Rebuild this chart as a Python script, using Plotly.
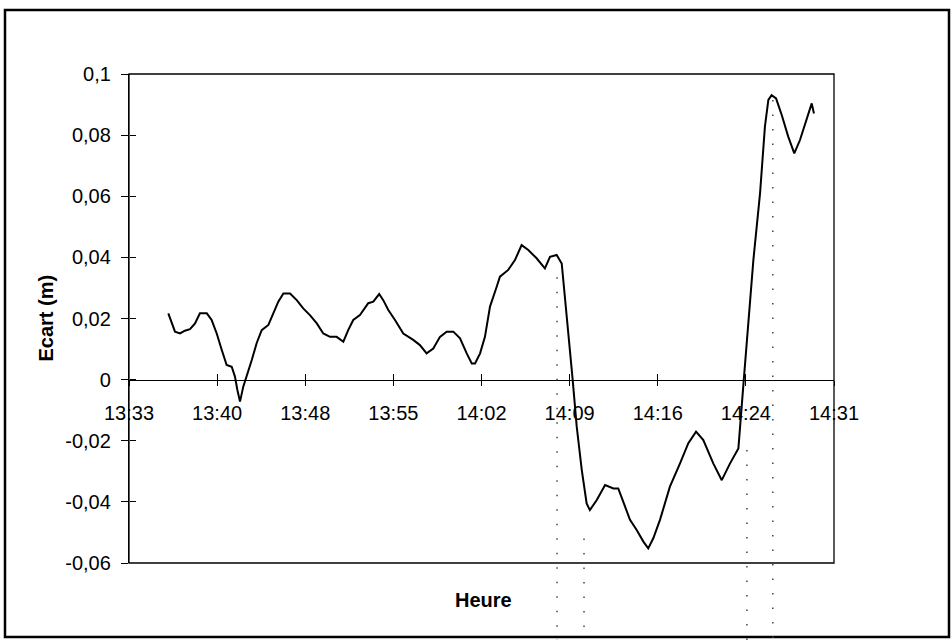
import pandas as pd
import plotly.graph_objects as go

# Measured deviation (m) against clock time
heure = [
    "13:36:14", "13:36:47", "13:37:12", "13:37:36", "13:38:01", "13:38:26", "13:38:50",
    "13:39:24", "13:39:48", "13:40:13", "13:40:38", "13:41:02", "13:41:27", "13:41:43",
    "13:41:55", "13:42:08", "13:42:24", "13:42:41", "13:43:06", "13:43:30", "13:43:55",
    "13:44:28", "13:44:52", "13:45:17", "13:45:42", "13:46:15", "13:46:48", "13:47:20",
    "13:47:53", "13:48:27", "13:48:59", "13:49:32", "13:50:05", "13:50:38", "13:51:02",
    "13:51:27", "13:52:00", "13:52:41", "13:53:06", "13:53:35", "13:53:55", "13:54:20",
    "13:54:53", "13:55:34", "13:56:23", "13:56:56", "13:57:29", "13:58:02", "13:58:35",
    "13:59:08", "13:59:41", "14:00:14", "14:00:47", "14:01:12", "14:01:28", "14:01:53",
    "14:02:17", "14:02:42", "14:03:15", "14:03:31", "14:04:12", "14:04:45", "14:05:18",
    "14:05:51", "14:06:32", "14:07:13", "14:07:38", "14:08:11", "14:08:36", "14:08:52",
    "14:09:08", "14:09:30", "14:09:50", "14:10:15", "14:10:39", "14:10:55", "14:11:29",
    "14:12:10", "14:12:51", "14:13:15", "14:13:40", "14:14:13", "14:14:46", "14:15:19",
    "14:15:43", "14:16:08", "14:16:41", "14:17:30", "14:18:20", "14:19:01", "14:19:39",
    "14:20:15", "14:21:04", "14:21:46", "14:22:27", "14:23:08", "14:23:32", "14:23:57",
    "14:24:22", "14:24:55", "14:25:19", "14:25:36", "14:25:52", "14:26:14", "14:26:42",
    "14:27:14", "14:27:44", "14:28:12", "14:28:45", "14:29:10", "14:29:21",
]
ecart = [
    0.0217, 0.0157, 0.0151, 0.0160, 0.0165, 0.0184, 0.0217,
    0.0217, 0.0195, 0.0151, 0.0097, 0.0048, 0.0042, 0.0010,
    -0.0034, -0.0072, -0.0023, 0.0010, 0.0064, 0.0119, 0.0162,
    0.0179, 0.0217, 0.0255, 0.0282, 0.0282, 0.0260, 0.0233,
    0.0211, 0.0184, 0.0151, 0.0140, 0.0140, 0.0124, 0.0162,
    0.0195, 0.0211, 0.0250, 0.0255, 0.0280, 0.0260, 0.0228,
    0.0195, 0.0151, 0.0130, 0.0113, 0.0086, 0.0102, 0.0140,
    0.0157, 0.0157, 0.0135, 0.0086, 0.0053, 0.0053, 0.0086,
    0.0140, 0.0239, 0.0304, 0.0337, 0.0359, 0.0391, 0.0440,
    0.0424, 0.0397, 0.0364, 0.0402, 0.0408, 0.0380, 0.0271,
    0.0140, 0.0000, -0.0154, -0.0296, -0.0405, -0.0427, -0.0394,
    -0.0345, -0.0356, -0.0356, -0.0400, -0.0459, -0.0492, -0.0530,
    -0.0552, -0.0519, -0.0459, -0.0350, -0.0274, -0.0208, -0.0170,
    -0.0198, -0.0274, -0.0329, -0.0274, -0.0225, -0.0023, 0.0195,
    0.0391, 0.0610, 0.0828, 0.0915, 0.0931, 0.0920, 0.0866,
    0.0795, 0.0740, 0.0784, 0.0850, 0.0904, 0.0871,
]

# Time axis ticks
x_debut, x_fin = "13:33:00", "14:31:00"
x_labels = ["13:33", "13:40", "13:48", "13:55", "14:02", "14:09", "14:16", "14:24", "14:31"]

# Value axis ticks
y_min, y_max = -0.06, 0.1
y_ticks = [-0.06, -0.04, -0.02, 0, 0.02, 0.04, 0.06, 0.08, 0.1]
y_labels = ["-0,06", "-0,04", "-0,02", "0", "0,02", "0,04", "0,06", "0,08", "0,1"]

# Dotted event markers: time and the value where each marker starts
repere_heure = ["14:08:13", "14:10:26", "14:23:50", "14:25:58"]
repere_depart = [0.0335, -0.052, -0.023, 0.0915]

jour = "2000-01-01 "
t = pd.to_datetime([jour + h for h in heure])
x_range = [pd.Timestamp(jour + x_debut), pd.Timestamp(jour + x_fin)]
x_tickvals = pd.date_range(x_range[0], x_range[1], periods=len(x_labels))

FONT = "Liberation Sans, Arial, sans-serif"
L, R, T, B = 129, 118, 74, 77
H = 640
plot_w = 952 - L - R
plot_h = H - T - B
zero_pos = (0 - y_min) / (y_max - y_min)


def to_paper(v):
    return (v - y_min) / (y_max - y_min)


fig = go.Figure()
# transparent copy on the overlay axes so their inner tick marks get drawn
fig.add_trace(go.Scatter(
    x=t, y=ecart, xaxis="x2", yaxis="y2", mode="lines",
    line=dict(color="rgba(0,0,0,0)", width=1),
    showlegend=False, hoverinfo="skip",
))
fig.add_trace(go.Scatter(
    x=t, y=ecart, mode="lines",
    line=dict(color="black", width=2),
    showlegend=False, hoverinfo="x+y",
))

tick_font = dict(family=FONT, size=20, color="black")
title_font = dict(family=FONT, size=20, color="black")

fig.update_layout(
    width=952, height=640,
    margin=dict(l=L, r=R, t=T, b=B),
    paper_bgcolor="white", plot_bgcolor="white",
    xaxis=dict(
        type="date", range=x_range, tickvals=x_tickvals, ticktext=x_labels,
        anchor="free", position=zero_pos, showgrid=False, zeroline=False,
        showline=True, linecolor="black", linewidth=1.3,
        ticks="outside", ticklen=5, tickwidth=1, tickcolor="black",
        ticklabelstandoff=10, tickfont=tick_font,
    ),
    xaxis2=dict(
        type="date", range=x_range, tickvals=x_tickvals, overlaying="x",
        anchor="free", position=zero_pos, showgrid=False, zeroline=False,
        showline=False, showticklabels=False,
        ticks="inside", ticklen=6, tickwidth=1, tickcolor="black",
    ),
    yaxis=dict(
        range=[y_min, y_max], tickvals=y_ticks, ticktext=y_labels,
        showgrid=False, zeroline=False,
        showline=True, linecolor="black", linewidth=1.3,
        ticks="outside", ticklen=7, tickwidth=1, tickcolor="black",
        ticklabelstandoff=6, tickfont=tick_font,
    ),
    yaxis2=dict(
        range=[y_min, y_max], tickvals=y_ticks, overlaying="y",
        anchor="free", position=0, side="left",
        showgrid=False, zeroline=False, showline=False, showticklabels=False,
        ticks="inside", ticklen=6, tickwidth=1, tickcolor="black",
    ),
    annotations=[
        dict(text="<b>Ecart (m)</b>", textangle=-90, x=(45 - L) / plot_w, y=0.5,
             xref="paper", yref="paper", showarrow=False,
             xanchor="center", yanchor="middle", font=title_font),
        dict(text="<b>Heure</b>", x=(484 - L) / plot_w, y=-(600 - (H - B)) / plot_h,
             xref="paper", yref="paper", showarrow=False,
             xanchor="center", yanchor="middle", font=title_font),
    ],
)

shapes = [
    # plot area frame
    dict(type="rect", xref="paper", yref="paper", x0=0, x1=1, y0=0, y1=1,
         line=dict(color="black", width=1.3), layer="above"),
    # outer chart frame
    dict(type="rect", xref="paper", yref="paper",
         x0=(5 - L) / plot_w, x1=(949 - L) / plot_w,
         y0=-(637 - (H - B)) / plot_h, y1=((H - B) - 10) / plot_h,
         line=dict(color="black", width=2.5)),
]
bas = -(H - (H - B)) / plot_h
for h, v in zip(repere_heure, repere_depart):
    shapes.append(dict(
        type="line", xref="x", yref="paper",
        x0=pd.Timestamp(jour + h), x1=pd.Timestamp(jour + h),
        y0=to_paper(v), y1=bas,
        line=dict(color="#444444", width=1.5, dash="1.5px,13px"),
    ))
fig.update_layout(shapes=shapes)

fig.write_html("out.html")
